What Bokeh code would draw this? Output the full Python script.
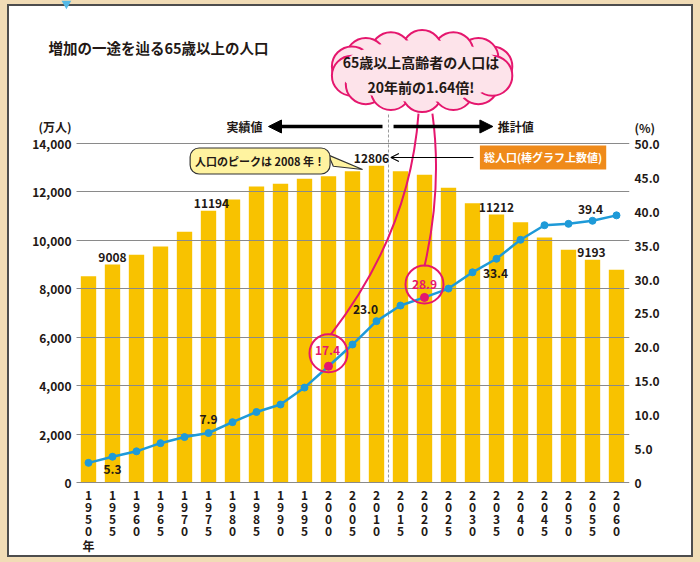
import numpy as np
from bokeh.plotting import figure
from bokeh.models import (Range1d, LinearAxis, FixedTicker, ColumnDataSource, Label,
                          Arrow, NormalHead, OpenHead)
from bokeh.core.properties import value
from bokeh.embed import file_html
from bokeh.resources import INLINE

# ---------------- data ----------------
years = [1950, 1955, 1960, 1965, 1970, 1975, 1980, 1985, 1990, 1995, 2000, 2005,
         2010, 2015, 2020, 2025, 2030, 2035, 2040, 2045, 2050, 2055, 2060]
# total population (10k persons), bar heights as drawn
total_pop = [8520, 9003, 9404, 9747, 10354, 11221, 11688, 12225, 12336, 12543, 12651, 12857,
             13080, 12857, 12708, 12171, 11535, 11068, 10751, 10118, 9610, 9197, 8784]
# share of 65+ (%), line points as drawn
aging_rate = [2.9, 3.8, 4.6, 5.8, 6.7, 7.3, 8.9, 10.4, 11.5, 14.0, 17.15, 20.35,
              23.8, 26.1, 27.3, 28.6, 31.0, 33.0, 35.8, 37.95, 38.15, 38.6, 39.4]

pop_label_years = [1955, 1975, 2010, 2035, 2055]
pop_label_texts = ["9008", "11194", "12806", "11212", "9193"]
rate_label_years = [1955, 1975, 2000, 2010, 2020, 2035, 2055]
rate_label_texts = ["5.3", "7.9", "17.4", "23.0", "28.9", "33.4", "39.4"]
highlight_years = [2000, 2020]

left_ticks = [0, 2000, 4000, 6000, 8000, 10000, 12000, 14000]
left_tick_labels = ["0", "2,000", "4,000", "6,000", "8,000", "10,000", "12,000", "14,000"]
right_ticks = [0, 5, 10, 15, 20, 25, 30, 35, 40, 45, 50]
right_tick_labels = ["0", "5.0", "10.0", "15.0", "20.0", "25.0", "30.0", "35.0", "40.0", "45.0", "50.0"]

title_text = "増加の一途を辿る65歳以上の人口"
cloud_lines = ["65歳以上高齢者の人口は", "20年前の1.64倍!"]
peak_text = "人口のピークは 2008 年！"
legend_text = "総人口(棒グラフ上数値)"
actual_text = "実績値"
proj_text = "推計値"
left_unit = "(万人)"
right_unit = "(%)"
year_suffix = "年"

# ---------------- style ----------------
FONT = "Noto Sans CJK JP"
DARK = "#231815"
BAR = "#f8c200"
BLUE = "#1e9ad8"
MAG = "#e5176e"
PINK = "#fde3ea"
BEIGE = "#f1dcb6"
EDGE = "#4d4d4d"

PX_V = 41.297      # left-axis units per pixel
PX_P = 0.14749     # right-axis units per pixel
PX_X = 1 / 24.0    # category units per pixel

idx = list(range(len(years)))
pos = {y: i for i, y in enumerate(years)}

# page-like frame around the chart (drawn with CSS inset shadows, under the canvas)
frame_css = {
    "background-color": "white",
    "box-shadow": (f"inset 7px 4px 0 0 {BEIGE}, inset -7px -5px 0 0 {BEIGE}, "
                   f"inset 9px 6px 0 0 {EDGE}, inset -9px -7px 0 0 {EDGE}"),
}

# the frame starts left of the first bar so that the title fits inside it
p = figure(width=700, height=562, output_backend="svg", toolbar_location=None,
           x_range=Range1d(-2.0, 22.5417), y_range=Range1d(-80 * PX_V, 482 * PX_V),
           x_axis_location=None, y_axis_location="left",
           min_border=0, min_border_left=40, min_border_right=71,
           background_fill_color=None, border_fill_color=None, styles=frame_css)
p.outline_line_color = None
p.title.visible = False
p.extra_y_ranges = {"pct": Range1d(-80 * PX_P, 482 * PX_P)}

# axes
unit_val_left = 14702
unit_val_right = 52.36
ly = p.yaxis[0]
ly.ticker = FixedTicker(ticks=left_ticks + [unit_val_left])
ov = {t: s for t, s in zip(left_ticks, left_tick_labels)}
ov[unit_val_left] = left_unit
ly.major_label_overrides = ov
ry = LinearAxis(y_range_name="pct")
ry.ticker = FixedTicker(ticks=right_ticks + [unit_val_right])
ov2 = {t: s for t, s in zip(right_ticks, right_tick_labels)}
ov2[unit_val_right] = right_unit
ry.major_label_overrides = ov2
p.add_layout(ry, "right")
for ax in (ly, ry):
    ax.axis_line_color = None
    ax.major_tick_line_color = None
    ax.minor_tick_line_color = None
    ax.major_tick_out = 0
    ax.major_tick_in = 0
    ax.major_label_text_font = FONT
    ax.major_label_text_font_style = "bold"
    ax.major_label_text_font_size = "12px"
    ax.major_label_text_color = DARK
ly.major_label_standoff = -31
ry.major_label_standoff = 5

# horizontal grid limited to the bar area
grid_x0, grid_x1 = -0.5, 22.5417
g = p.ygrid[0]
if "cross_bounds" in g.properties():
    g.ticker = FixedTicker(ticks=left_ticks)
    g.grid_line_color = "#8a8a8a"
    g.grid_line_width = 1
    g.cross_bounds = (grid_x0, grid_x1)
else:
    g.visible = False
    gl = p.segment(x0=[grid_x0] * len(left_ticks), y0=left_ticks,
                   x1=[grid_x1] * len(left_ticks), y1=left_ticks,
                   line_color="#8a8a8a", line_width=1)
    gl.level = "underlay"
p.xgrid.visible = False

# small blue tab on the top edge
p.scatter(x=[-0.92], y=[479 * PX_V], marker="inverted_triangle", size=10,
          fill_color="#55b9e6", line_color=None)

# bars
src = ColumnDataSource(dict(x=idx, pop=total_pop, rate=aging_rate))
bars = p.vbar(x="x", top="pop", bottom=0, width=0.64, source=src, fill_color=BAR, line_color=None)
bars.level = "image"

# year labels: vertical stacked digits
yl_x, yl_k, yl_t = [], [], []
for i, y in enumerate(years):
    chars = list(str(y)) + ([year_suffix] if i == 0 else [])
    for k, ch in enumerate(chars):
        yl_x.append(i)
        yl_k.append(k)
        yl_t.append(ch)
yl_y = [(-13 - 12 * k - (1.5 if t == year_suffix else 0)) * PX_V for k, t in zip(yl_k, yl_t)]
p.text(x=yl_x, y=yl_y, text=yl_t, text_align="center", text_baseline="middle",
       text_font=value(FONT), text_font_style="bold", text_font_size="12px", text_color=DARK)

# dashed divider between actual and projected values
p.segment(x0=[12.5], y0=[0], x1=[12.5], y1=[15240], line_color="#9a9a9a",
          line_dash="3 2", line_width=1)

# connectors from cloud to highlighted points (under the cloud)
hl_i = [pos[y] for y in highlight_years]
hl_r = [aging_rate[i] for i in hl_i]
p.quadratic(x0=[13.75, 14.33], y0=[54.4, 54.4],
            x1=[hl_i[0] + 0.1, hl_i[1]], y1=[hl_r[0] + 4.7, hl_r[1] + 4.6],
            cx=[13.4, 14.75], cy=[37.0, 43.5],
            line_color=MAG, line_width=2, y_range_name="pct")

# cloud
cx, cy = 13.9, 16990
a_px, b_px, br = 72, 21, 20
th = np.linspace(0, 2 * np.pi, 14, endpoint=False) + np.pi / 14
bx = cx + a_px * np.cos(th) * PX_X
by = cy + b_px * np.sin(th) * PX_V
p.scatter(x=bx, y=by, size=2 * br, marker="circle", fill_color=PINK, line_color=MAG, line_width=2)
p.ellipse(x=[cx], y=[cy], width=[2 * (a_px + 10) * PX_X], height=[2 * (b_px + 10) * PX_V],
          fill_color=PINK, line_color=None)
p.text(x=[13.85, 13.85], y=[17345, 16320], text=cloud_lines, text_align="center",
       text_baseline="middle", text_font=value(FONT), text_font_style="bold",
       text_font_size="14px", text_color=DARK)

# rate line
p.line(x="x", y="rate", source=src, line_color=BLUE, line_width=2.5, y_range_name="pct")
p.scatter(x="x", y="rate", source=src, size=7, fill_color=BLUE, line_color=BLUE, y_range_name="pct")
p.scatter(x=hl_i, y=hl_r, size=8, fill_color=MAG, line_color=MAG, y_range_name="pct")
p.scatter(x=hl_i, y=[r + 13 * PX_P for r in hl_r], size=38, fill_color=None, line_color=MAG,
          line_width=2, y_range_name="pct")

# rate labels
rl_i = [pos[y] for y in rate_label_years]
rate_lab = ColumnDataSource(dict(
    x=rl_i, y=[aging_rate[i] for i in rl_i], t=rate_label_texts,
    dx=[0, 0, -1, -11, 0, -1, -2], dy=[13, -14, -16, -12, -13, 15, -11],
    c=[MAG if y in highlight_years else DARK for y in rate_label_years]))
p.text(x="x", y="y", text="t", x_offset="dx", y_offset="dy", source=rate_lab,
       text_color="c", text_align="center", text_baseline="middle",
       text_font=value(FONT), text_font_style="bold", text_font_size="12px",
       y_range_name="pct")

# population labels
pl_i = [pos[y] for y in pop_label_years]
pop_lab = ColumnDataSource(dict(x=pl_i, y=[total_pop[i] for i in pl_i], t=pop_label_texts,
                                dx=[0, 3, -5, 0, -1]))
p.text(x="x", y="y", text="t", x_offset="dx", y_offset=-7, source=pop_lab,
       text_color=DARK, text_align="center", text_baseline="middle",
       text_font=value(FONT), text_font_style="bold", text_font_size="12px")

# arrows 実績値 / 推計値
p.add_layout(Arrow(end=NormalHead(size=13, fill_color="black", line_color="black"),
                   x_start=12.25, y_start=14702, x_end=7.5, y_end=14702,
                   line_width=3.5, line_color="black"))
p.add_layout(Arrow(end=NormalHead(size=13, fill_color="black", line_color="black"),
                   x_start=12.71, y_start=14702, x_end=16.85, y_end=14702,
                   line_width=3.5, line_color="black"))
p.add_layout(Label(x=7.25, y=14702, text=actual_text, text_align="right", text_baseline="middle",
                   text_font=FONT, text_font_style="bold", text_font_size="12px", text_color=DARK))
p.add_layout(Label(x=17.05, y=14702, text=proj_text, text_align="left", text_baseline="middle",
                   text_font=FONT, text_font_style="bold", text_font_size="12px", text_color=DARK))

# arrow to 12806
p.add_layout(Arrow(end=OpenHead(size=8, line_color="black", line_width=1.2),
                   x_start=16.04, y_start=13422, x_end=12.6, y_end=13422,
                   line_width=1.2, line_color="black"))
p.add_layout(Label(x=18.94, y=13422, text=legend_text, text_align="center", text_baseline="middle",
                   text_font=FONT, text_font_style="bold", text_font_size="11px", text_color="white",
                   background_fill_color="#ef8a1a", padding=4))

# peak callout
p.patch(x=[10.0, 10.2, 11.42], y=[13520, 13060, 12926], fill_color="#fff3a0",
        line_color="#333333", line_width=1.2)
p.add_layout(Label(x=7.15, y=13277, text=peak_text, text_align="center", text_baseline="middle",
                   text_font=FONT, text_font_style="bold", text_font_size="11px", text_color=DARK,
                   background_fill_color="#fff3a0", border_line_color="#333333",
                   border_line_width=1.2, padding=5, border_radius=9))

# title
p.add_layout(Label(x=-1.667, y=17964, text=title_text, text_align="left", text_baseline="middle",
                   text_font=FONT, text_font_style="bold", text_font_size="14.5px", text_color=DARK))

open("out.html", "w", encoding="utf-8").write(file_html(p, INLINE))
